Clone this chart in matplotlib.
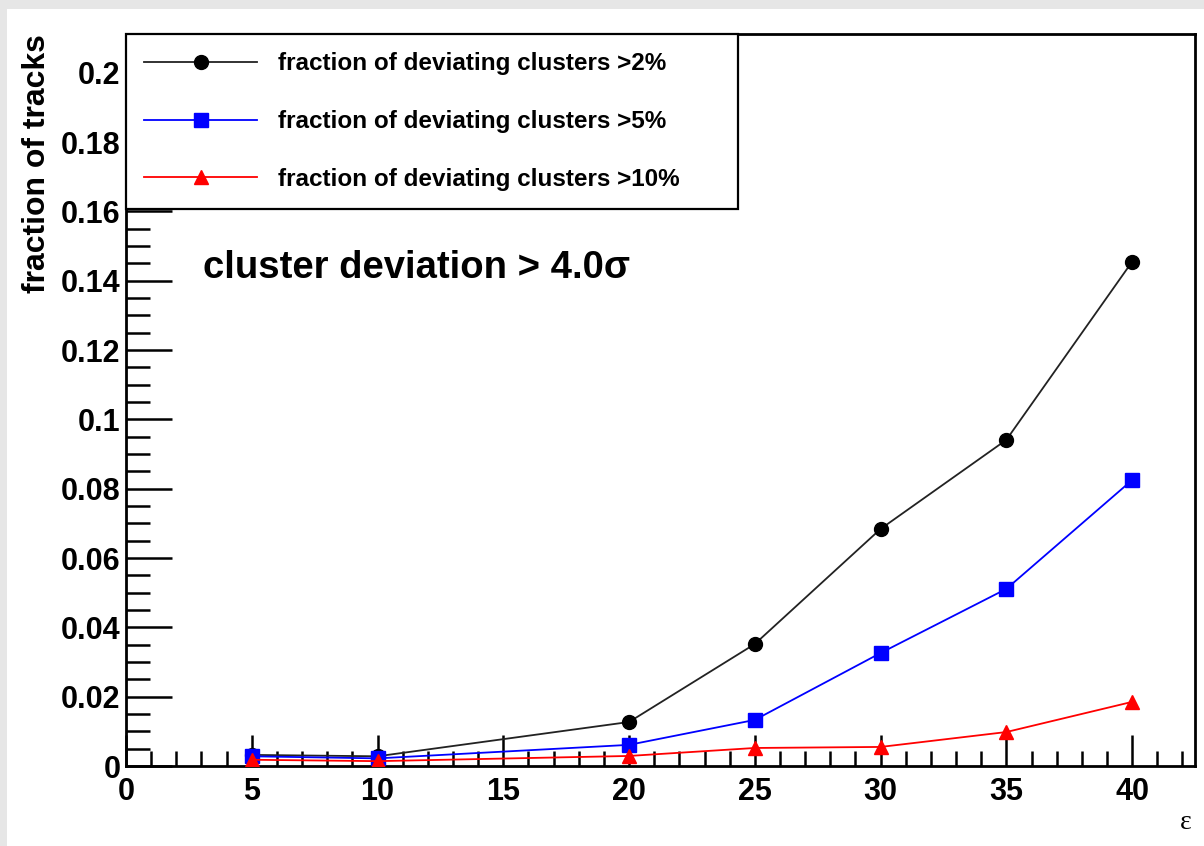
import matplotlib
matplotlib.use("Agg")
import matplotlib.pyplot as plt
from matplotlib.patches import Rectangle
from matplotlib.ticker import MultipleLocator

# ---- data ----
eps = [5, 10, 20, 25, 30, 35, 40]
frac_2 = [0.0032, 0.0028, 0.0127, 0.0352, 0.0684, 0.0941, 0.1455]
frac_5 = [0.0028, 0.0022, 0.0061, 0.0133, 0.0326, 0.0511, 0.0825]
frac_10 = [0.0018, 0.0014, 0.0029, 0.0052, 0.0055, 0.0098, 0.0185]
labels = ["fraction of deviating clusters >2%",
          "fraction of deviating clusters >5%",
          "fraction of deviating clusters >10%"]
xticks = [0, 5, 10, 15, 20, 25, 30, 35, 40]
yticks = [0, 0.02, 0.04, 0.06, 0.08, 0.1, 0.12, 0.14, 0.16, 0.18, 0.2]
ytick_labels = ["0", "0.02", "0.04", "0.06", "0.08", "0.1", "0.12", "0.14", "0.16", "0.18", "0.2"]

plt.rcParams['font.family'] = ['Liberation Sans', 'DejaVu Sans']
plt.rcParams['font.weight'] = 'bold'

W, H = 1204, 846
fig = plt.figure(figsize=(W / 100, H / 100), dpi=100)
fig.patch.set_facecolor('white')
# grey window border (top and left)
fig.patches.append(Rectangle((0, 1 - 9 / H), 1, 9 / H, transform=fig.transFigure,
                             facecolor='#e6e6e6', edgecolor='none', zorder=0))
fig.patches.append(Rectangle((0, 0), 7 / W, 1, transform=fig.transFigure,
                             facecolor='#e6e6e6', edgecolor='none', zorder=0))

left, right, top, bottom = 126, 1195, 34, 766
ax = fig.add_axes([left / W, 1 - bottom / H, (right - left) / W, (bottom - top) / H])

l1, = ax.plot(eps, frac_2, color='#222222', lw=1.3, marker='o', ms=10,
              mfc='black', mec='black', zorder=3)
l2, = ax.plot(eps, frac_5, color='blue', lw=1.3, marker='s', ms=10,
              mfc='blue', mec='blue', zorder=4)
l3, = ax.plot(eps, frac_10, color='red', lw=1.3, marker='^', ms=10,
              mfc='red', mec='red', zorder=5)

ax.set_xlim(0, 42.5)
ax.set_ylim(0, 0.2112)
ax.set_xticks(xticks)
ax.set_xticklabels([str(v) for v in xticks])
ax.set_yticks(yticks)
ax.set_yticklabels(ytick_labels)
ax.xaxis.set_minor_locator(MultipleLocator(1))
ax.yaxis.set_minor_locator(MultipleLocator(0.005))
ax.tick_params(axis='both', which='both', direction='in', top=False, right=False,
               width=1.8, color='black')
ax.tick_params(axis='x', which='major', length=22, labelsize=22, pad=8)
ax.tick_params(axis='x', which='minor', length=11)
ax.tick_params(axis='y', which='major', length=33, labelsize=22, pad=4)
ax.tick_params(axis='y', which='minor', length=17)
for s in ax.spines.values():
    s.set_linewidth(2)
    s.set_color('black')

ax.set_ylabel("fraction of tracks", fontsize=23, fontweight='bold', labelpad=6, loc='top')
fig.text(1186 / W, 1 - 822 / H, "\u03b5", fontsize=20, fontweight='normal',
         family=['Liberation Serif', 'DejaVu Serif'], ha='center', va='center')

ax.text((203 - left) / (right - left), (bottom - 268) / (bottom - top),
        "cluster deviation > 4.0\u03c3", fontsize=27.5, fontweight='bold',
        transform=ax.transAxes, ha='left', va='center')

leg_w = (738 - left) / (right - left)
leg_h = (208 - top) / (bottom - top)
leg = ax.legend([l1, l2, l3], labels, loc='upper left',
                bbox_to_anchor=(0, 1 - leg_h, leg_w, leg_h), mode='expand',
                borderaxespad=0, fancybox=False, framealpha=1, edgecolor='black',
                prop={'family': ['Liberation Sans', 'DejaVu Sans'], 'weight': 'bold', 'size': 17.5},
                numpoints=1, handlelength=4.65, handletextpad=0.86, labelspacing=1.43,
                borderpad=0.76)
leg.get_frame().set_linewidth(1.6)
leg.set_zorder(10)

fig.savefig("out.png", dpi=100, facecolor=fig.get_facecolor())
